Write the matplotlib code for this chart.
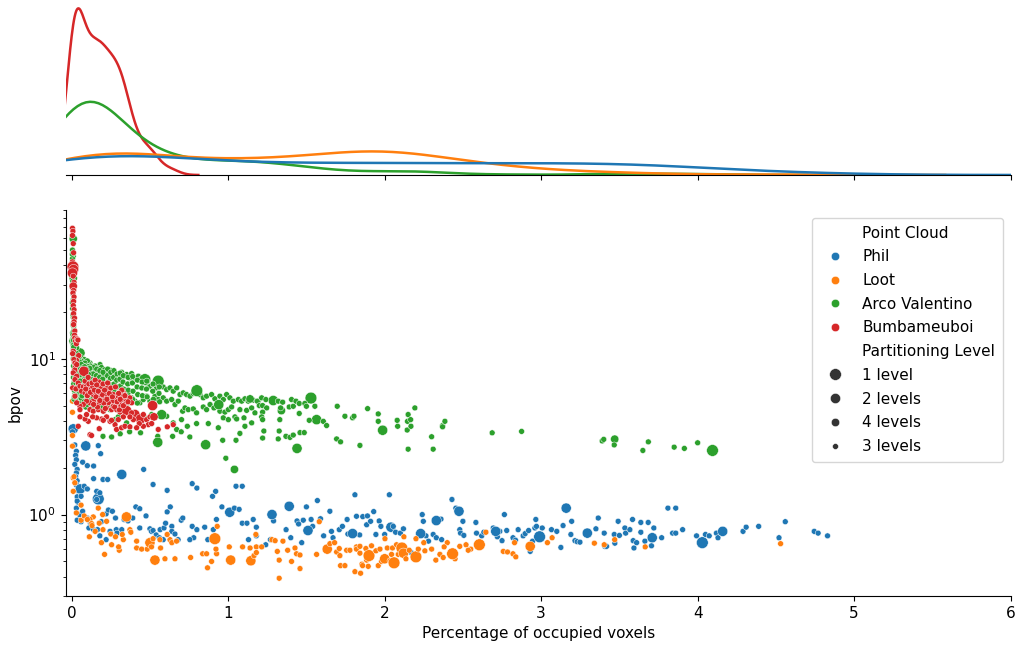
import matplotlib
matplotlib.use("Agg")
import matplotlib.pyplot as plt
import seaborn as sns
import pandas as pd

# ---------------- data (x = % occupied voxels, y = bpov, level) ----------------
phil_points = [
    (0.01, 3.55, 2), (0.005, 3.4, 3), (0.02, 2.8, 3), (0.03, 2.55, 3), (0.025, 2.4, 3), (0.03, 2.25, 3),
    (0.02, 2.1, 3), (0.035, 1.95, 3), (0.03, 1.85, 3), (0.025, 1.75, 3), (0.035, 1.65, 3), (0.03, 1.55, 3),
    (0.04, 1.42, 3), (0.035, 1.3, 3), (0.04, 1.2, 3), (0.03, 1.1, 3), (0.05, 1.0, 3), (0.04, 0.92, 3),
    (0.06, 0.9, 3), (0.055, 1.46, 2), (0.09, 2.76, 2), (0.17, 1.26, 1), (0.16, 1.25, 3), (0.17, 2.77, 3),
    (0.185, 2.46, 3), (0.07, 2.17, 3), (0.1, 2.06, 3), (0.14, 2.05, 3), (0.32, 1.81, 2), (0.46, 1.95, 3),
    (0.52, 1.56, 3), (0.61, 1.43, 3), (0.77, 1.58, 3), (0.8, 1.48, 3), (0.9, 1.31, 3), (0.92, 1.41, 3),
    (0.96, 1.12, 3), (1.01, 1.035, 2), (1.04, 1.1, 3), (1.05, 1.52, 3), (1.09, 1.52, 3), (1.07, 1.08, 3),
    (0.16, 1.41, 3), (0.18, 1.38, 3), (0.2, 1.68, 3), (0.23, 1.68, 3), (0.14, 1.7, 3), (0.08, 1.52, 3),
    (0.1, 1.46, 3), (0.06, 1.31, 3), (0.035, 1.22, 3), (0.035, 0.92, 3), (0.07, 1.05, 3), (0.1, 0.95, 3),
    (0.12, 0.88, 3), (0.11, 0.82, 3), (0.14, 0.8, 3), (0.18, 0.73, 3), (0.165, 0.8, 3), (0.19, 0.9, 3),
    (0.22, 1.01, 3), (0.235, 1.07, 3), (0.26, 1.05, 3), (0.28, 0.95, 3), (0.285, 0.8, 3), (0.245, 0.78, 3),
    (0.22, 0.69, 3), (0.29, 0.76, 3), (0.32, 0.8, 3), (0.335, 0.93, 3), (0.36, 0.91, 3), (0.39, 0.95, 3),
    (0.41, 1.12, 3), (0.435, 1.09, 3), (0.435, 0.82, 3), (0.475, 0.98, 3), (0.5, 0.81, 3), (0.51, 0.78, 3),
    (0.52, 0.79, 3), (0.54, 0.74, 3), (0.56, 0.71, 3), (0.565, 0.8, 3), (0.585, 0.69, 3), (0.59, 0.82, 3),
    (0.6, 0.88, 3), (0.63, 1.12, 3), (0.61, 1.04, 3), (0.64, 0.84, 3), (0.64, 0.78, 3), (0.66, 0.75, 3),
    (0.68, 0.69, 3), (0.7, 0.92, 3), (0.71, 0.95, 3), (0.77, 0.84, 3), (0.78, 0.71, 3), (0.755, 0.69, 3),
    (0.8, 0.8, 3), (0.85, 0.83, 3), (0.87, 0.69, 3), (0.905, 0.8, 3), (0.92, 0.71, 3), (0.925, 0.93, 3),
    (1.09, 0.88, 3), (1.12, 0.88, 3), (1.13, 0.69, 3), (1.16, 0.93, 3), (1.18, 0.83, 3), (1.18, 0.73, 3),
    (1.24, 0.64, 3), (1.27, 0.69, 3), (1.29, 0.91, 3), (1.37, 0.8, 3), (1.4, 0.71, 3), (1.44, 0.91, 3),
    (1.45, 0.87, 3), (1.47, 0.66, 3), (1.48, 0.92, 3), (1.5, 1.12, 3), (1.53, 0.93, 3), (1.54, 0.84, 3),
    (1.57, 1.23, 3), (1.59, 0.94, 3), (1.61, 0.73, 3), (1.65, 1.05, 3), (1.66, 0.78, 3), (1.67, 0.71, 3),
    (1.71, 0.8, 3), (1.73, 0.84, 3), (1.76, 0.93, 3), (1.765, 0.75, 3), (1.28, 1.0, 2), (1.39, 1.13, 2),
    (1.51, 0.79, 2), (1.82, 0.975, 3), (1.84, 0.74, 3), (1.86, 0.97, 3), (1.89, 0.98, 3), (1.885, 0.86, 3),
    (1.91, 0.905, 3), (1.93, 1.045, 3), (1.944, 0.745, 3), (1.965, 0.91, 3), (1.976, 0.84, 3), (2.0, 0.745, 3),
    (2.04, 0.83, 2), (2.055, 0.84, 3), (2.07, 0.77, 3), (2.1, 0.76, 3), (2.12, 0.81, 3), (2.17, 0.57, 3),
    (2.24, 1.0, 3), (2.247, 0.905, 3), (2.264, 0.73, 3), (2.28, 0.675, 3), (2.31, 0.745, 3), (2.33, 0.71, 3),
    (2.36, 0.935, 3), (2.364, 0.69, 3), (2.455, 1.1, 3), (2.48, 0.8, 3), (2.485, 0.76, 3), (2.5, 0.905, 3),
    (2.506, 0.735, 3), (2.583, 0.89, 3), (2.587, 0.76, 3), (2.62, 0.73, 3), (2.634, 0.77, 3), (2.694, 0.82, 3),
    (2.72, 0.72, 3), (2.736, 0.78, 3), (2.75, 0.68, 3), (2.78, 0.79, 3), (2.82, 0.71, 3), (2.836, 0.685, 3),
    (2.853, 0.8, 3), (2.885, 0.73, 3), (2.898, 0.755, 3), (2.92, 0.79, 3), (2.93, 0.58, 3), (2.945, 0.675, 3),
    (2.96, 0.82, 3), (2.966, 0.93, 3), (2.97, 0.84, 3), (3.007, 0.82, 3), (3.066, 0.8, 3), (3.1, 0.78, 3),
    (3.126, 0.615, 3), (3.14, 0.85, 3), (3.19, 0.745, 3), (3.195, 0.905, 3), (3.216, 0.68, 3), (3.23, 0.67, 3),
    (3.248, 0.665, 3), (3.35, 0.81, 3), (3.365, 0.95, 3), (3.403, 0.76, 3), (3.407, 0.625, 3), (3.418, 0.625, 3),
    (3.467, 0.745, 3), (3.471, 0.655, 3), (3.5, 0.735, 3), (3.492, 0.905, 3), (3.535, 0.82, 3), (3.54, 0.76, 3),
    (3.567, 0.8, 3), (3.584, 0.93, 3), (3.588, 0.68, 3), (3.593, 0.61, 3), (3.61, 0.66, 3), (3.637, 0.89, 3),
    (3.637, 0.77, 3), (3.663, 0.675, 3), (3.684, 0.89, 3), (3.705, 0.63, 3), (3.72, 0.82, 3), (3.77, 0.71, 3),
    (3.84, 0.76, 3), (3.86, 0.76, 3), (3.904, 0.8, 3), (3.993, 0.73, 3), (4.05, 0.745, 3), (4.074, 0.73, 3),
    (4.12, 0.76, 3), (4.13, 0.71, 3), (3.81, 1.1, 3), (3.86, 1.1, 3), (2.43, 1.25, 3), (1.81, 1.34, 3),
    (2.03, 1.34, 3), (2.765, 1.0, 3), (1.795, 0.755, 2), (2.23, 0.755, 2), (2.33, 0.915, 2), (2.475, 1.05, 2),
    (2.71, 0.78, 2), (2.99, 0.72, 1), (3.16, 1.1, 2), (3.295, 0.76, 2), (3.71, 0.71, 2), (4.03, 0.66, 1),
    (4.16, 0.78, 2), (4.29, 0.78, 3), (4.31, 0.83, 3), (4.39, 0.84, 3), (4.52, 0.71, 3), (4.56, 0.9, 3),
    (4.745, 0.78, 3), (4.77, 0.76, 3), (4.83, 0.73, 3),
]

loot_points = [
    (0.005, 5.35, 3), (0.005, 4.54, 3), (0.005, 3.22, 3), (0.005, 2.75, 3), (0.01, 1.72, 3),
    (0.015, 1.75, 3), (0.02, 1.6, 3), (0.01, 1.41, 3), (0.03, 1.025, 3), (0.06, 0.92, 3), (0.113, 0.72, 3),
    (0.138, 0.966, 3), (0.117, 0.93, 3), (0.127, 0.875, 3), (0.176, 0.88, 3), (0.17, 1.1, 3), (0.198, 1.0, 3),
    (0.223, 0.905, 3), (0.35, 0.966, 2), (0.21, 0.555, 3), (0.255, 0.64, 3), (0.304, 0.59, 3), (0.33, 0.69, 3),
    (0.323, 0.745, 3), (0.372, 0.8, 3), (0.378, 0.77, 3), (0.415, 0.675, 3), (0.415, 0.61, 3), (0.447, 0.6, 3),
    (0.483, 0.6, 3), (0.5, 0.66, 2), (0.532, 0.51, 2), (0.51, 0.62, 3), (0.52, 0.7, 3), (0.564, 0.69, 3),
    (0.568, 0.61, 3), (0.596, 0.52, 3), (0.628, 0.69, 3), (0.61, 0.745, 3), (0.64, 0.66, 3), (0.66, 0.52, 3),
    (0.67, 0.675, 3), (0.76, 0.53, 3), (0.837, 0.56, 3), (0.862, 0.56, 3), (0.868, 0.455, 3), (0.894, 0.5, 3),
    (0.915, 0.7, 1), (0.926, 0.56, 3), (0.922, 0.6, 3), (0.93, 0.84, 3), (1.007, 0.62, 3), (1.016, 0.51, 2),
    (1.092, 0.62, 3), (1.14, 0.61, 3), (1.145, 0.505, 2), (1.18, 0.62, 3), (1.165, 0.545, 3),
    (0.06, 1.15, 3), (0.08, 0.98, 3), (0.1, 0.93, 3), (0.13, 0.85, 3), (0.15, 0.78, 3), (0.2, 0.8, 3),
    (0.25, 0.75, 3), (0.28, 0.72, 3), (0.3, 0.62, 3), (0.19, 0.66, 3),
    (1.177, 0.745, 3), (1.18, 0.57, 3), (1.214, 0.62, 3), (1.28, 0.69, 3), (1.3, 0.68, 3), (1.314, 0.58, 3),
    (1.326, 0.51, 3), (1.326, 0.39, 3), (1.35, 0.675, 3), (1.38, 0.59, 3), (1.405, 0.5, 3), (1.427, 0.61, 3),
    (1.437, 0.56, 3), (1.459, 0.55, 3), (1.459, 0.45, 3), (1.565, 0.555, 3), (1.582, 0.9, 3), (1.633, 0.6, 2),
    (1.65, 0.65, 3), (1.68, 0.66, 3), (1.693, 0.575, 3), (1.71, 0.605, 3), (1.714, 0.545, 3), (1.718, 0.47, 3),
    (1.746, 0.47, 3), (1.757, 0.59, 3), (1.778, 0.59, 3), (1.81, 0.43, 3), (1.82, 0.62, 3), (1.82, 0.6, 3),
    (1.842, 0.625, 3), (1.842, 0.565, 3), (1.846, 0.42, 3), (1.855, 0.48, 3), (1.859, 0.47, 3), (1.88, 0.605, 3),
    (1.885, 0.51, 3), (1.9, 0.545, 1), (1.895, 0.465, 3), (1.916, 0.63, 3), (1.944, 0.585, 3), (1.959, 0.47, 3),
    (1.97, 0.6, 3), (1.98, 0.5, 3), (2.0, 0.52, 2), (2.002, 0.7, 3), (2.017, 0.61, 3), (2.034, 0.505, 3),
    (2.044, 0.555, 3), (2.05, 0.61, 3), (2.06, 0.49, 1), (2.076, 0.64, 3), (2.087, 0.555, 3), (2.11, 0.61, 1),
    (2.12, 0.565, 2), (2.123, 0.72, 3), (2.136, 0.52, 3), (2.157, 0.59, 3), (2.2, 0.535, 1), (2.215, 0.6, 3),
    (2.257, 0.585, 3), (2.327, 0.51, 3), (2.353, 0.555, 3), (2.374, 0.53, 3), (2.4, 0.66, 3),
    (2.25, 0.66, 3), (2.3, 0.6, 3), (2.45, 0.52, 3), (2.55, 0.6, 3), (2.2, 0.7, 3), (2.38, 0.62, 3),
    (2.434, 0.56, 1), (2.48, 0.625, 3), (2.52, 0.64, 3), (2.534, 0.59, 3), (2.605, 0.64, 1), (2.647, 0.77, 3),
    (2.758, 0.58, 3), (2.785, 0.575, 3), (2.82, 0.56, 3), (2.83, 0.66, 3), (2.838, 0.535, 3), (2.93, 0.625, 2),
    (3.04, 0.66, 3), (3.07, 0.71, 3), (3.34, 0.655, 3), (3.403, 0.64, 3), (3.47, 0.69, 3), (3.665, 0.62, 3),
    (4.53, 0.65, 3),
]

arco_points = [
    (0.01, 59.0, 4), (0.005, 50.0, 3), (0.01, 45.6, 3), (0.008, 40.0, 3), (0.01, 36.0, 3), (0.01, 33.0, 4),
    (0.012, 27.8, 3), (0.01, 24.0, 3), (0.012, 20.7, 3), (0.015, 17.9, 3), (0.015, 15.4, 3), (0.018, 14.0, 3),
    (0.015, 13.0, 2), (0.025, 12.1, 3), (0.02, 11.2, 3), (0.053, 10.9, 2),
    (0.006, 14.7, 3), (0.01, 13.6, 3), (0.021, 12.4, 3), (0.032, 11.8, 3), (0.021, 10.7, 3), (0.042, 10.1, 3),
    (0.053, 9.66, 3), (0.074, 9.41, 3), (0.095, 9.66, 3), (0.117, 9.41, 3), (0.127, 8.97, 3), (0.106, 8.6, 3),
    (0.138, 8.54, 3), (0.159, 8.75, 3), (0.181, 9.19, 3), (0.191, 8.6, 3), (0.213, 8.33, 3), (0.223, 7.93, 3),
    (0.245, 8.45, 3), (0.266, 8.13, 3), (0.277, 7.74, 3), (0.298, 7.93, 3), (0.319, 8.2, 3), (0.33, 7.74, 3),
    (0.351, 7.93, 3), (0.372, 7.55, 3), (0.383, 8.04, 3), (0.404, 7.55, 3), (0.426, 7.74, 3), (0.436, 7.36, 3),
    (0.458, 7.44, 3), (0.479, 7.0, 3), (0.5, 6.67, 3), (0.521, 6.84, 3), (0.543, 6.51, 3), (0.564, 6.84, 3),
    (0.585, 6.6, 3), (0.607, 6.35, 3), (0.628, 6.51, 3), (0.649, 6.2, 3), (0.671, 6.51, 3), (0.692, 5.9, 3),
    (0.713, 6.05, 3), (0.734, 5.9, 3), (0.756, 5.76, 3), (0.777, 5.99, 3), (0.82, 5.9, 3), (0.841, 5.62, 3),
    (0.862, 5.76, 3), (0.894, 5.9, 3), (0.915, 5.54, 3), (0.947, 5.76, 3), (0.969, 5.48, 3), (0.99, 5.9, 3),
    (1.011, 5.62, 3), (1.033, 5.35, 3), (1.065, 5.48, 3), (1.086, 5.35, 3), (1.107, 5.54, 3), (1.128, 5.35, 3),
    (1.16, 5.43, 3), (1.192, 5.35, 3),
    (0.053, 7.36, 3), (0.074, 6.84, 3), (0.095, 6.67, 3), (0.117, 6.35, 3), (0.138, 6.05, 3), (0.159, 6.51, 3),
    (0.181, 6.84, 3), (0.202, 6.35, 3), (0.223, 5.9, 3), (0.245, 6.2, 3), (0.266, 5.76, 3), (0.287, 5.48, 3),
    (0.309, 5.9, 3), (0.34, 5.48, 3), (0.362, 5.22, 3), (0.383, 5.62, 3), (0.404, 5.35, 3), (0.436, 5.22, 3),
    (0.458, 5.48, 3), (0.479, 5.76, 3), (0.5, 5.35, 3), (0.532, 5.76, 3), (0.553, 5.48, 3), (0.585, 5.62, 3),
    (0.607, 5.35, 3), (0.639, 5.48, 3), (0.66, 5.09, 3), (0.681, 5.35, 3), (0.709, 4.61, 3), (0.724, 4.84, 3),
    (0.745, 4.72, 3), (0.777, 4.77, 3), (0.798, 4.5, 3), (0.841, 4.91, 3), (0.862, 4.72, 3), (0.884, 5.09, 3),
    (0.909, 4.84, 3), (0.947, 4.61, 3), (0.979, 4.55, 3), (1.001, 4.72, 3), (1.022, 4.91, 3), (1.043, 4.24, 3),
    (1.075, 4.72, 3), (1.101, 4.18, 3), (1.118, 4.67, 3), (1.15, 4.84, 3), (1.171, 4.5, 3),
    (0.202, 4.61, 3), (0.245, 4.72, 3), (0.277, 4.07, 3), (0.298, 4.24, 3), (0.351, 3.88, 3), (0.394, 4.18, 3),
    (0.468, 4.18, 3), (0.511, 4.39, 3), (0.607, 4.28, 3), (0.649, 3.88, 3), (0.671, 3.52, 3), (0.702, 4.07, 3),
    (0.739, 3.69, 3), (0.798, 3.84, 3), (0.873, 3.84, 3), (0.937, 3.61, 3), (0.969, 4.18, 3), (1.001, 4.07, 3),
    (1.054, 4.11, 3), (1.075, 3.32, 3), (1.107, 3.69, 3), (1.15, 3.88, 3),
    (0.2, 3.18, 3), (0.255, 3.15, 3), (0.31, 3.3, 3), (0.37, 3.4, 3), (0.44, 3.35, 3), (0.55, 3.18, 3),
    (0.645, 3.18, 3), (0.7, 3.4, 3), (0.755, 3.15, 3), (0.965, 3.0, 3), (1.05, 3.0, 3), (0.985, 2.3, 3),
    (1.04, 1.95, 4),
    (0.468, 7.36, 1), (0.553, 7.2, 1), (0.347, 6.1, 2), (0.8, 6.25, 1), (0.575, 4.38, 2), (1.14, 5.53, 4),
    (0.94, 5.08, 2), (0.55, 2.91, 2), (0.856, 2.81, 2), (0.26, 6.3, 4), (0.22, 5.8, 4), (0.12, 7.6, 4),
    (1.288, 5.4, 2), (1.34, 4.65, 4), (1.529, 5.6, 1), (1.565, 4.07, 2), (1.44, 2.66, 2), (1.987, 3.48, 2),
    (3.47, 3.05, 4), (4.095, 2.58, 1),
    (1.186, 5.35, 3), (1.214, 5.62, 3), (1.241, 5.48, 3), (1.199, 5.01, 3), (1.22, 5.01, 3), (1.246, 4.84, 3),
    (1.22, 4.55, 3), (1.214, 4.24, 3), (1.22, 4.07, 3), (1.228, 3.44, 3), (1.22, 3.1, 3), (1.32, 5.35, 3),
    (1.348, 5.27, 3), (1.335, 4.84, 3), (1.33, 4.07, 3), (1.326, 3.44, 3), (1.32, 3.06, 3), (1.369, 3.18, 3),
    (1.39, 4.91, 3), (1.405, 5.48, 3), (1.416, 4.96, 3), (1.433, 5.35, 3), (1.454, 5.17, 3), (1.454, 4.46, 3),
    (1.459, 3.36, 3), (1.395, 3.13, 3), (1.416, 3.24, 3), (1.486, 3.36, 3), (1.49, 5.17, 3), (1.5, 4.96, 3),
    (1.518, 4.03, 3), (1.554, 4.96, 3), (1.608, 3.97, 3), (1.629, 3.73, 3), (1.697, 4.96, 3), (1.693, 3.06, 3),
    (1.718, 2.93, 3), (1.746, 4.28, 3), (1.795, 4.18, 3), (1.804, 4.28, 3), (1.842, 2.78, 3), (1.891, 4.79, 3),
    (1.959, 4.43, 3), (1.959, 3.97, 3), (2.08, 4.03, 3), (2.083, 3.69, 3), (2.15, 4.39, 3), (2.146, 3.97, 3),
    (2.144, 3.49, 3), (2.166, 4.07, 3), (2.168, 3.69, 3), (2.193, 4.84, 3), (2.3, 3.16, 3), (2.31, 2.63, 3),
    (2.15, 2.63, 3), (2.37, 3.73, 3), (2.37, 3.66, 3), (2.385, 3.97, 3),
    (2.687, 3.35, 3), (2.875, 3.42, 3), (3.39, 2.97, 3), (3.4, 3.04, 3), (3.467, 2.8, 3), (3.65, 2.58, 3),
    (3.685, 2.93, 3), (3.85, 2.71, 3), (3.915, 2.66, 3), (4.0, 2.89, 3),
    # dense overlapping core near the origin
    (0.03, 9.2, 3), (0.028, 8.4, 3), (0.033, 7.7, 3), (0.03, 6.9, 3), (0.026, 6.2, 3), (0.032, 5.6, 3),
    (0.05, 9.8, 3), (0.048, 8.8, 3), (0.052, 8.0, 3), (0.05, 7.1, 3), (0.047, 6.4, 3), (0.053, 5.8, 3),
    (0.05, 5.2, 3), (0.07, 9.5, 3), (0.072, 8.6, 3), (0.068, 7.8, 3), (0.071, 7.0, 3), (0.069, 6.3, 3),
    (0.073, 5.5, 3), (0.09, 9.1, 3), (0.088, 8.3, 3), (0.092, 7.5, 3), (0.09, 6.8, 3), (0.087, 6.0, 3),
    (0.093, 5.4, 3), (0.09, 4.9, 3), (0.11, 9.3, 3), (0.108, 8.5, 3), (0.112, 7.6, 3), (0.11, 6.9, 3),
    (0.107, 6.2, 3), (0.113, 5.6, 3), (0.13, 8.9, 3), (0.128, 8.1, 3), (0.132, 7.3, 3), (0.13, 6.6, 3),
    (0.127, 5.9, 3), (0.133, 5.3, 3), (0.13, 4.8, 3), (0.15, 9.0, 3), (0.148, 8.2, 3), (0.152, 7.4, 3),
    (0.15, 6.7, 3), (0.147, 6.1, 3), (0.153, 5.5, 3), (0.17, 8.7, 3), (0.168, 7.9, 3), (0.172, 7.2, 3),
    (0.17, 6.5, 3), (0.167, 5.8, 3), (0.173, 5.1, 3), (0.19, 8.8, 3), (0.188, 8.0, 3), (0.192, 7.3, 3),
    (0.19, 6.6, 3), (0.187, 6.0, 3), (0.193, 5.4, 3), (0.19, 4.9, 3), (0.21, 8.5, 3), (0.208, 7.7, 3),
    (0.212, 7.0, 3), (0.21, 6.4, 3), (0.207, 5.7, 3), (0.23, 8.6, 3), (0.228, 7.8, 3), (0.232, 7.1, 3),
    (0.23, 6.3, 3), (0.227, 5.6, 3), (0.233, 5.0, 3), (0.25, 8.2, 3), (0.248, 7.5, 3), (0.252, 6.8, 3),
    (0.25, 6.1, 3), (0.247, 5.4, 3), (0.27, 8.4, 3), (0.268, 7.6, 3), (0.272, 6.9, 3), (0.27, 6.2, 3),
    (0.267, 5.5, 3), (0.273, 4.9, 3), (0.29, 8.0, 3), (0.288, 7.3, 3), (0.292, 6.6, 3), (0.29, 5.9, 3),
    (0.287, 5.3, 3), (0.31, 8.1, 3), (0.308, 7.4, 3), (0.312, 6.7, 3), (0.31, 6.0, 3), (0.307, 5.2, 3),
    (0.33, 7.8, 3), (0.328, 7.1, 3), (0.332, 6.4, 3), (0.33, 5.7, 3), (0.327, 5.0, 3), (0.36, 7.6, 3),
    (0.358, 6.9, 3), (0.362, 6.3, 3), (0.36, 5.6, 3), (0.39, 7.7, 3), (0.388, 7.0, 3), (0.392, 6.2, 3),
    (0.39, 5.5, 3), (0.42, 7.3, 3), (0.418, 6.6, 3), (0.422, 5.9, 3), (0.42, 5.2, 3), (0.45, 7.1, 3),
    (0.448, 6.5, 3), (0.452, 5.8, 3), (0.48, 7.2, 3), (0.478, 6.4, 3), (0.482, 5.7, 3), (0.52, 6.9, 3),
    (0.518, 6.2, 3), (0.522, 5.5, 3), (0.56, 6.6, 3), (0.558, 6.0, 3), (0.562, 5.3, 3),
    # further overlapping points hidden in the core (x 0 - 0.2)
    (0.004, 38.0, 3), (0.006, 30.0, 3), (0.008, 22.0, 3), (0.01, 18.5, 3), (0.012, 16.2, 3), (0.009, 12.8, 3),
    (0.011, 11.6, 3), (0.014, 10.4, 3), (0.016, 9.6, 3), (0.018, 8.9, 3), (0.02, 8.1, 3), (0.022, 7.4, 3),
    (0.024, 6.7, 3), (0.02, 6.0, 3), (0.025, 5.4, 3), (0.035, 10.5, 3), (0.038, 9.5, 3), (0.04, 8.7, 3),
    (0.042, 7.9, 3), (0.039, 7.2, 3), (0.041, 6.5, 3), (0.043, 5.9, 3), (0.06, 10.2, 3), (0.058, 9.3, 3),
    (0.062, 8.5, 3), (0.06, 7.7, 3), (0.057, 7.0, 3), (0.063, 6.3, 3), (0.06, 5.6, 3), (0.08, 9.9, 3),
    (0.078, 9.0, 3), (0.082, 8.2, 3), (0.08, 7.4, 3), (0.077, 6.6, 3), (0.083, 5.9, 3), (0.08, 5.3, 3),
    (0.1, 9.7, 3), (0.098, 8.8, 3), (0.102, 8.0, 3), (0.1, 7.2, 3), (0.097, 6.5, 3), (0.103, 5.8, 3),
    (0.1, 5.1, 3), (0.12, 9.0, 3), (0.118, 8.2, 3), (0.122, 7.4, 3), (0.12, 6.7, 3), (0.117, 6.0, 3),
    (0.123, 5.4, 3), (0.14, 8.8, 3), (0.138, 8.0, 3), (0.142, 7.2, 3), (0.14, 6.4, 3), (0.137, 5.7, 3),
    (0.143, 5.0, 3), (0.16, 8.6, 3), (0.158, 7.8, 3), (0.162, 7.0, 3), (0.16, 6.3, 3), (0.157, 5.6, 3),
    (0.18, 8.4, 3), (0.178, 7.6, 3), (0.182, 6.9, 3), (0.18, 6.2, 3), (0.177, 5.5, 3), (0.2, 8.2, 3),
    (0.198, 7.4, 3), (0.202, 6.7, 3), (0.2, 6.0, 3), (0.197, 5.3, 3),
    (0.005, 44.0, 3), (0.007, 31.5, 3), (0.009, 26.0, 3), (0.006, 21.0, 3), (0.008, 19.2, 3), (0.011, 17.0, 3),
    (0.013, 15.0, 3), (0.01, 12.2, 3), (0.012, 10.9, 3), (0.015, 9.9, 3), (0.017, 9.2, 3), (0.019, 8.6, 3),
    (0.014, 7.8, 3), (0.016, 7.1, 3), (0.018, 6.5, 3), (0.021, 5.9, 3), (0.015, 5.5, 3), (0.023, 9.6, 3),
    (0.027, 8.9, 3), (0.029, 8.0, 3), (0.026, 7.3, 3), (0.031, 6.6, 3), (0.028, 5.9, 3), (0.034, 9.9, 3),
    (0.036, 9.0, 3), (0.037, 8.2, 3), (0.035, 7.5, 3), (0.038, 6.8, 3), (0.036, 6.1, 3), (0.045, 10.3, 3),
    (0.046, 9.4, 3), (0.044, 8.6, 3), (0.047, 7.8, 3), (0.045, 7.0, 3), (0.048, 6.2, 3), (0.055, 9.9, 3),
    (0.056, 9.0, 3), (0.054, 8.3, 3), (0.057, 7.5, 3), (0.055, 6.7, 3), (0.065, 9.6, 3), (0.066, 8.8, 3),
    (0.064, 8.0, 3), (0.067, 7.2, 3), (0.065, 6.5, 3), (0.066, 5.8, 3), (0.075, 9.2, 3), (0.076, 8.4, 3),
    (0.074, 7.6, 3), (0.077, 6.9, 3), (0.085, 9.4, 3), (0.086, 8.6, 3), (0.084, 7.8, 3), (0.087, 7.0, 3),
    (0.095, 9.0, 3), (0.096, 8.2, 3), (0.094, 7.4, 3), (0.105, 8.9, 3), (0.106, 8.0, 3), (0.115, 8.7, 3),
    (0.004, 47.0, 3), (0.006, 35.0, 3), (0.007, 28.5, 3), (0.005, 23.0, 3), (0.009, 16.5, 3), (0.008, 14.3, 3),
    (0.011, 13.2, 3), (0.013, 11.9, 3), (0.01, 10.0, 3), (0.012, 9.0, 3), (0.014, 8.3, 3), (0.011, 7.6, 3),
    (0.013, 6.9, 3), (0.016, 6.3, 3), (0.017, 5.7, 3), (0.022, 10.6, 3), (0.024, 9.3, 3), (0.025, 8.5, 3),
    (0.023, 7.7, 3), (0.027, 7.0, 3), (0.026, 6.4, 3), (0.033, 10.8, 3), (0.034, 9.6, 3), (0.032, 8.8, 3),
    (0.035, 8.0, 3), (0.033, 7.3, 3), (0.037, 6.4, 3), (0.043, 9.9, 3), (0.044, 9.1, 3), (0.042, 8.3, 3),
    (0.046, 7.5, 3), (0.043, 6.8, 3), (0.052, 9.5, 3), (0.053, 8.7, 3), (0.051, 7.9, 3), (0.054, 7.2, 3),
    (0.062, 9.2, 3), (0.063, 8.4, 3), (0.073, 8.8, 3), (0.083, 8.9, 3), (0.093, 8.6, 3),
]

bumba_points = [
    (0.005, 69.0, 3), (0.008, 66.0, 3), (0.005, 62.0, 3), (0.01, 55.0, 3), (0.012, 48.0, 3), (0.005, 42.0, 3),
    (0.008, 39.0, 1), (0.012, 37.5, 2), (0.005, 35.6, 2), (0.01, 34.0, 3), (0.015, 31.0, 3), (0.01, 29.3, 4),
    (0.012, 27.5, 3), (0.008, 26.5, 3), (0.015, 25.0, 3), (0.012, 23.4, 3), (0.01, 22.0, 3), (0.015, 20.7, 3),
    (0.012, 19.5, 3), (0.018, 18.3, 3), (0.015, 17.3, 3), (0.012, 16.6, 3), (0.02, 15.1, 3), (0.018, 14.2, 3),
    (0.02, 13.6, 3), (0.025, 13.0, 3), (0.03, 12.5, 3), (0.035, 13.4, 3), (0.04, 13.2, 3), (0.045, 10.5, 3),
    (0.03, 9.8, 3), (0.025, 9.0, 3), (0.02, 8.5, 3),
    (0.01, 11.2, 3), (0.006, 10.8, 3), (0.014, 9.9, 3), (0.021, 9.41, 3), (0.032, 9.19, 3), (0.078, 8.33, 2),
    (0.01, 8.13, 3), (0.032, 7.74, 3), (0.021, 7.36, 3), (0.042, 7.0, 3), (0.006, 6.51, 3), (0.027, 6.41, 3),
    (0.053, 6.67, 3), (0.074, 6.6, 3), (0.095, 6.67, 3), (0.063, 6.2, 3), (0.085, 6.05, 3), (0.106, 6.2, 3),
    (0.127, 6.41, 3), (0.138, 5.9, 3), (0.159, 6.05, 3), (0.181, 5.9, 3), (0.191, 6.2, 3), (0.17, 5.62, 3),
    (0.202, 5.76, 3), (0.223, 5.9, 3), (0.234, 6.41, 4), (0.245, 5.62, 3), (0.266, 5.9, 3), (0.277, 5.48, 3),
    (0.298, 5.76, 3), (0.319, 5.62, 3), (0.33, 6.05, 3), (0.334, 5.62, 2), (0.351, 5.35, 3), (0.372, 5.62, 3),
    (0.383, 5.22, 3), (0.34, 5.09, 3), (0.309, 5.09, 3), (0.287, 5.22, 3), (0.262, 5.35, 3), (0.234, 5.22, 3),
    (0.202, 5.35, 3), (0.176, 5.22, 3), (0.138, 5.35, 3), (0.117, 5.22, 3), (0.095, 5.35, 3), (0.074, 5.09, 3),
    (0.053, 4.96, 3), (0.032, 5.22, 3), (0.021, 5.76, 3), (0.117, 4.72, 3), (0.138, 4.61, 3), (0.17, 4.72, 3),
    (0.202, 4.61, 3), (0.223, 4.84, 3), (0.255, 4.72, 3), (0.266, 4.96, 3), (0.287, 4.72, 3), (0.309, 4.55, 3),
    (0.351, 4.65, 2), (0.404, 4.39, 2), (0.44, 4.11, 2), (0.383, 4.5, 3), (0.458, 4.39, 3), (0.479, 4.07, 3),
    (0.5, 4.24, 3), (0.517, 5.01, 2), (0.526, 4.24, 4), (0.49, 3.78, 3), (0.458, 3.69, 3), (0.432, 3.84, 3),
    (0.394, 4.07, 3), (0.372, 4.24, 3), (0.33, 4.24, 3), (0.298, 4.07, 3), (0.277, 3.78, 3), (0.245, 3.97, 3),
    (0.223, 4.24, 3), (0.191, 4.11, 3), (0.159, 4.18, 3), (0.134, 4.24, 3), (0.106, 3.97, 3), (0.085, 4.11, 3),
    (0.053, 4.24, 3), (0.042, 3.69, 3), (0.117, 3.26, 3), (0.127, 3.22, 3), (0.176, 3.56, 3), (0.202, 4.03, 3),
    (0.255, 4.03, 3), (0.287, 3.52, 3), (0.319, 3.61, 3), (0.34, 3.69, 3), (0.372, 3.66, 3), (0.415, 3.61, 3),
    (0.511, 3.84, 3), (0.553, 3.52, 3), (0.611, 3.66, 3), (0.649, 3.78, 3), (0.053, 4.72, 3), (0.095, 4.39, 3),
    # dense overlapping core
    (0.085, 7.2, 3), (0.1, 5.8, 3), (0.11, 6.9, 3), (0.12, 6.1, 3), (0.135, 6.6, 3), (0.145, 6.3, 3),
    (0.155, 5.7, 3), (0.165, 4.9, 3), (0.175, 7.1, 3), (0.185, 6.6, 3), (0.195, 5.9, 3), (0.205, 5.2, 3),
    (0.215, 4.8, 3), (0.225, 5.5, 3), (0.24, 6.0, 3), (0.25, 6.5, 3), (0.26, 5.7, 3), (0.275, 4.9, 3),
    (0.29, 5.3, 3), (0.305, 4.7, 3), (0.32, 6.3, 3), (0.34, 5.8, 3), (0.36, 5.3, 3),
    (0.09, 6.4, 3), (0.105, 7.6, 3), (0.13, 7.0, 3), (0.14, 5.1, 3), (0.15, 7.3, 3), (0.16, 6.8, 3),
    (0.17, 6.2, 3), (0.18, 5.4, 3), (0.2, 6.9, 3), (0.21, 6.3, 3), (0.23, 7.0, 3), (0.28, 6.6, 3),
    (0.3, 6.0, 3), (0.31, 5.5, 3), (0.33, 5.0, 3),
]

cloud_names = ["Phil", "Loot", "Arco Valentino", "Bumbameuboi"]
level_names = {1: "1 level", 2: "2 levels", 3: "3 levels", 4: "4 levels"}
size_order = ["1 level", "2 levels", "4 levels", "3 levels"]
palette = ["#1f77b4", "#ff7f0e", "#2ca02c", "#d62728"]

# ---------------- build table ----------------
rows = []
for name, pts in zip(cloud_names, [phil_points, loot_points, arco_points, bumba_points]):
    for x, y, lv in pts:
        rows.append({"Percentage of occupied voxels": x, "bpov": y,
                     "Point Cloud": name, "Partitioning Level": level_names[lv]})
df = pd.DataFrame(rows)

plt.rcParams["font.family"] = ["DejaVu Sans"]

fig = plt.figure(figsize=(10.16, 6.45), dpi=100)
ax_top = fig.add_axes([0.0647, 0.7287, 0.930, 0.2713])
ax = fig.add_axes([0.0647, 0.076, 0.930, 0.598])

sns.kdeplot(data=df, x="Percentage of occupied voxels", hue="Point Cloud",
            hue_order=cloud_names, palette=palette, common_norm=False,
            legend=False, ax=ax_top, linewidth=1.8)
ax_top.set_xlim(-0.038, 6)
ymax = max(l.get_ydata().max() for l in ax_top.get_lines())
ax_top.set_ylim(0, ymax * 1.05)
ax_top.set_xticks(range(0, 7))
ax_top.set_xticklabels([])
ax_top.set_xlabel("")
ax_top.set_ylabel("")
ax_top.set_yticks([])
for s in ["left", "top", "right"]:
    ax_top.spines[s].set_visible(False)

sns.scatterplot(data=df, x="Percentage of occupied voxels", y="bpov",
                hue="Point Cloud", hue_order=cloud_names, palette=palette,
                size="Partitioning Level", size_order=size_order,
                sizes={"1 level": 72, "2 levels": 54, "4 levels": 36, "3 levels": 18},
                ax=ax)
ax.set_yscale("log")
ax.set_xlim(-0.038, 6)
ax.set_ylim(0.30, 90)
ax.set_xticks(range(0, 7))
for s in ["top", "right"]:
    ax.spines[s].set_visible(False)
ax.legend(loc="upper right", fontsize=11, labelspacing=0.57, borderpad=0.5)
ax.tick_params(labelsize=11)
ax.set_xlabel("Percentage of occupied voxels", fontsize=11)
ax.set_ylabel("bpov", fontsize=11)

fig.savefig("out.png", dpi=100)
